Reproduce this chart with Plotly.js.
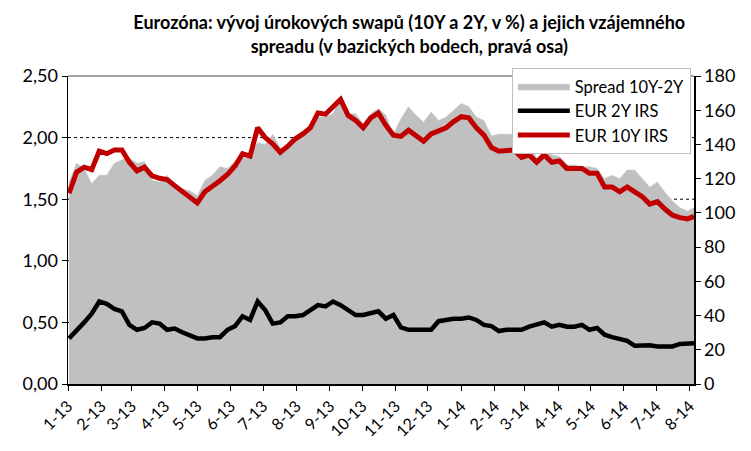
<!DOCTYPE html>
<html>
<head>
<meta charset="utf-8">
<script src="https://cdn.plot.ly/plotly-3.0.1.min.js"></script>
<style>
  body { margin: 0; background: #fff; }
  #chart { width: 751px; height: 451px; }
</style>
</head>
<body>
<div id="chart"></div>
<script>
var startDate = Date.UTC(2013, 0, 2);
var weekMs = 7 * 24 * 3600 * 1000;

// EUR 10Y IRS, in %
var irs10y = [1.55, 1.72, 1.76, 1.74, 1.89, 1.87, 1.90, 1.90, 1.80, 1.73,
  1.76, 1.69, 1.67, 1.66, 1.61, 1.56, 1.52, 1.47, 1.56, 1.60,
  1.65, 1.70, 1.77, 1.87, 1.85, 2.08, 2.00, 1.95, 1.88, 1.93,
  1.99, 2.03, 2.08, 2.20, 2.19, 2.25, 2.31, 2.18, 2.14, 2.08,
  2.16, 2.20, 2.10, 2.02, 2.01, 2.06, 2.01, 1.97, 2.03, 2.05,
  2.08, 2.13, 2.17, 2.16, 2.08, 2.02, 1.92, 1.89, 1.90, 1.90,
  1.84, 1.86, 1.80, 1.86, 1.80, 1.81, 1.75, 1.75, 1.75, 1.71,
  1.71, 1.60, 1.60, 1.56, 1.60, 1.56, 1.52, 1.46, 1.48, 1.42,
  1.37, 1.35, 1.34, 1.36];

// EUR 2Y IRS, in %
var irs2y = [0.37, 0.43, 0.50, 0.57, 0.67, 0.65, 0.61, 0.59, 0.48, 0.44,
  0.455, 0.50, 0.49, 0.44, 0.45, 0.42, 0.395, 0.37, 0.37, 0.38,
  0.38, 0.44, 0.47, 0.55, 0.52, 0.67, 0.60, 0.49, 0.50, 0.55,
  0.55, 0.56, 0.60, 0.64, 0.63, 0.67, 0.64, 0.60, 0.56, 0.56,
  0.575, 0.59, 0.53, 0.56, 0.46, 0.44, 0.44, 0.44, 0.44, 0.51,
  0.52, 0.53, 0.53, 0.54, 0.52, 0.48, 0.47, 0.43, 0.44, 0.44,
  0.44, 0.465, 0.48, 0.50, 0.465, 0.48, 0.465, 0.465, 0.48, 0.44,
  0.455, 0.40, 0.38, 0.365, 0.35, 0.31, 0.315, 0.315, 0.305, 0.303,
  0.305, 0.325, 0.33, 0.33];

// Spread 10Y-2Y, in basis points (right axis)
var spreadBp = [118, 129, 126, 117, 122, 122, 129, 131, 132, 129,
  130, 119, 118, 122, 116, 114, 113, 110, 119, 122,
  127, 126, 130, 132, 133, 141, 140, 146, 138, 138,
  144, 147, 148, 156, 156, 158, 167, 158, 158, 152,
  158, 161, 157, 146, 155, 162, 157, 153, 159, 154,
  156, 160, 164, 162, 156, 154, 145, 146, 146, 146,
  140, 140, 132, 136, 134, 133, 128, 128, 127, 127,
  126, 120, 122, 120, 125, 125, 120, 115, 118, 112,
  107, 103, 101, 103];

var dates = [];
for (var i = 0; i < irs10y.length - 1; i++) {
  dates.push(new Date(startDate + i * weekMs).toISOString().slice(0, 10));
}
dates.push("2014-08-05");

var leftTicks = [0, 0.5, 1, 1.5, 2, 2.5];
var rightTicks = [0, 20, 40, 60, 80, 100, 120, 140, 160, 180];

var font = "Lato, 'Open Sans', sans-serif";

var traceSpread = {
  x: dates,
  y: spreadBp,
  name: "Spread 10Y-2Y",
  type: "scatter",
  mode: "lines",
  fill: "tozeroy",
  fillcolor: "#c0c0c0",
  line: {color: "#c0c0c0", width: 0.5},
  yaxis: "y"
};

var trace2y = {
  x: dates,
  y: irs2y,
  name: "EUR 2Y IRS",
  type: "scatter",
  mode: "lines",
  line: {color: "#000000", width: 4.5},
  yaxis: "y2"
};

var trace10y = {
  x: dates,
  y: irs10y,
  name: "EUR 10Y IRS",
  type: "scatter",
  mode: "lines",
  line: {color: "#c00000", width: 5},
  yaxis: "y2"
};

// dashed gridlines of the left axis, drawn under the grey area
var gridShapes = [0.5, 1, 1.5, 2].map(function (v) {
  return {
    type: "line", xref: "paper", yref: "y2", x0: 0, x1: 1, y0: v, y1: v,
    line: {color: "#000000", width: 1, dash: "dot"}, layer: "below"
  };
});
gridShapes.push({
  type: "line", xref: "paper", yref: "paper", x0: 0, x1: 1, y0: 1, y1: 1,
  line: {color: "#868686", width: 1.5}, layer: "below"
});

var layout = {
  width: 751,
  height: 451,
  margin: {l: 68, r: 57, t: 76, b: 67},
  paper_bgcolor: "#ffffff",
  plot_bgcolor: "rgba(0,0,0,0)",
  separators: ", ",
  font: {family: font, size: 17, color: "#000000"},
  title: {
    text: "<b>Eurozóna: vývoj úrokových swapů (10Y a 2Y, v %) a jejich vzájemného<br>spreadu (v bazických bodech, pravá osa)</b>",
    font: {family: font, size: 18, color: "#000000"},
    x: 0.545, xanchor: "center", y: 0.935, yanchor: "top"
  },
  xaxis: {
    type: "date",
    range: ["2013-01-01", "2014-08-05"],
    dtick: "M1",
    tick0: "2013-01-01",
    tickformat: "%-m-%y",
    tickangle: -45,
    ticks: "outside",
    ticklen: 5,
    tickcolor: "#000000",
    showline: true,
    linecolor: "#000000",
    linewidth: 1.5,
    showgrid: false,
    zeroline: false,
    tickfont: {family: font, size: 16}
  },
  yaxis: {
    side: "right",
    range: [0, 180],
    tickvals: rightTicks,
    ticks: "outside",
    ticklen: 5,
    tickcolor: "#000000",
    showline: true,
    linecolor: "#000000",
    linewidth: 1.5,
    showgrid: false,
    zeroline: false,
    tickfont: {family: font, size: 18}
  },
  yaxis2: {
    overlaying: "y",
    side: "left",
    range: [0, 2.5],
    tickvals: leftTicks,
    tickformat: ".2f",
    ticks: "outside",
    ticklen: 5,
    tickcolor: "#000000",
    showline: true,
    linecolor: "#000000",
    linewidth: 1.5,
    showgrid: false,
    zeroline: false,
    tickfont: {family: font, size: 18}
  },
  shapes: gridShapes,
  showlegend: true,
  legend: {
    x: 0.709, xanchor: "left",
    y: 1.026, yanchor: "top",
    bgcolor: "#ffffff",
    bordercolor: "#bfbfbf",
    borderwidth: 1,
    itemwidth: 52,
    tracegroupgap: 0,
    font: {family: font, size: 16.5}
  }
};

Plotly.newPlot("chart", [traceSpread, trace2y, trace10y], layout, {displayModeBar: false, staticPlot: true});
</script>
</body>
</html>
